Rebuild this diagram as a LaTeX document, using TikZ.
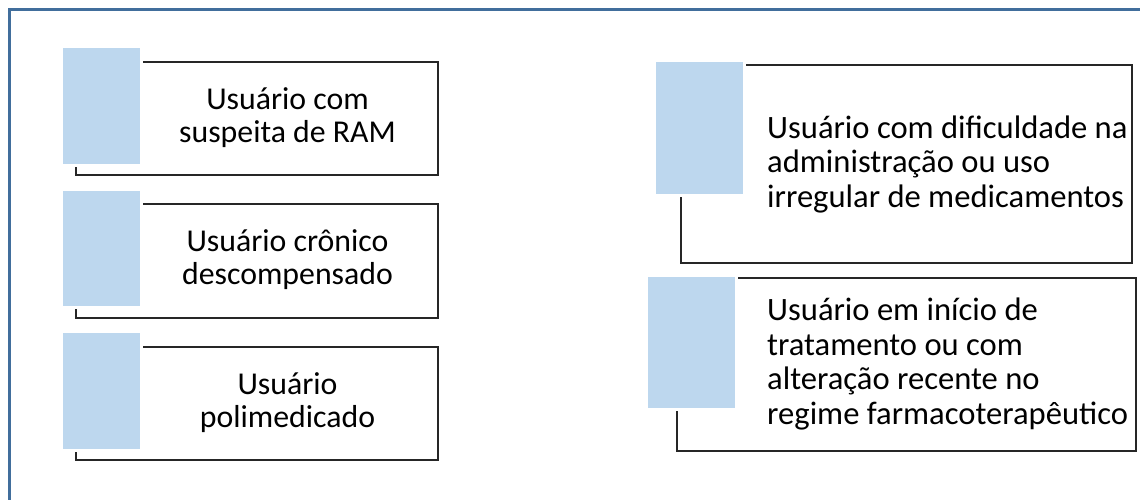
\documentclass[tikz,border=0pt]{standalone}
\usepackage{fontspec}
\setmainfont{Carlito}
\definecolor{frameblue}{RGB}{65,110,156}
\definecolor{tabblue}{RGB}{189,215,238}
\definecolor{outl}{RGB}{38,38,38}
\tikzset{
  outlinebox/.style={draw=outl,line width=1.6pt,rectangle,anchor=north west,inner sep=0pt,minimum width=#1},
  tab/.style={fill=tabblue,draw=white,line width=3pt,rectangle,anchor=north west,inner sep=0pt,xshift=-1.5pt,yshift=1.5pt},
  ltext/.style={align=center,inner sep=0pt,font=\fontsize{31.8}{33}\selectfont},
  rtext/.style={align=left,anchor=west,inner sep=0pt,font=\fontsize{32.6}{34.5}\selectfont},
}
\begin{document}
\begin{tikzpicture}[x=1pt,y=-1pt]
\useasboundingbox (0,0) rectangle (1140,500);
% frame
\draw[frameblue,line width=3pt] (9.5,500) -- (9.5,9.5) -- (1140,9.5);
% left boxes
\node[outlinebox=362,minimum height=113] (o1) at (75,61) {};
\node[tab,minimum width=80,minimum height=118] (t1) at (61,47) {};
\node[ltext] (x1) at (287.5,117.5) {Usuário com\\suspeita de RAM};
\node[outlinebox=362,minimum height=114] (o2) at (75,203) {};
\node[tab,minimum width=80,minimum height=118] (t2) at (61,189) {};
\node[ltext] (x2) at (287.5,260) {Usuário crônico\\descompensado};
\node[outlinebox=362,minimum height=113] (o3) at (75,346) {};
\node[tab,minimum width=80,minimum height=119] (t3) at (61,331) {};
\node[ltext] (x3) at (287.5,402.5) {Usuário\\polimedicado};
% right boxes
\node[outlinebox=451,minimum height=198] (o4) at (680,64) {};
\node[tab,minimum width=90,minimum height=134] (t4) at (654,61) {};
\node[rtext] (x4) at (767,164) {Usuário com dificuldade na\\administração ou uso\\irregular de medicamentos};
\node[outlinebox=459,minimum height=173] (o5) at (676,277) {};
\node[tab,minimum width=90,minimum height=134] (t5) at (646,275) {};
\node[rtext] (x5) at (767,364) {Usuário em início de\\tratamento ou com\\alteração recente no\\regime farmacoterapêutico};
\end{tikzpicture}
\end{document}
